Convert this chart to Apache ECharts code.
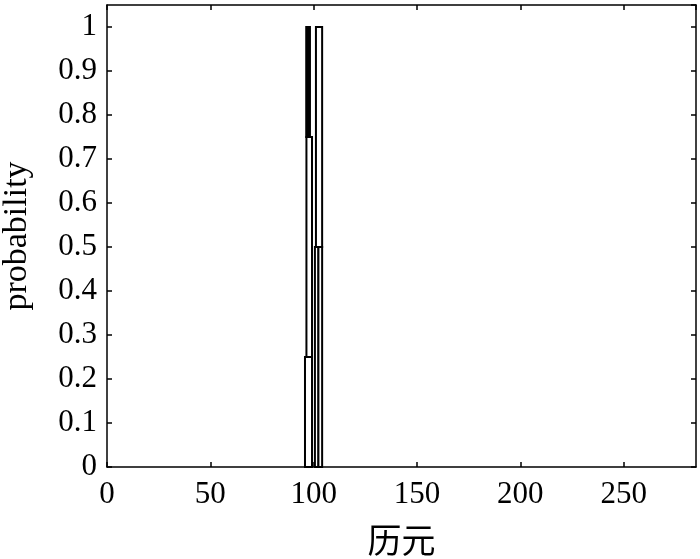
<!DOCTYPE html>
<html>
<head>
<meta charset="utf-8">
<script src="https://cdn.jsdelivr.net/npm/echarts@6/dist/echarts.min.js"></script>
<style>html,body{margin:0;padding:0;background:#fff}#c{width:700px;height:559px}</style>
</head>
<body>
<div id="c"></div>
<script>
// Bar segments: [xStart, xEnd, yBottom, yTop]
const segLeft = [[95.8, 99.2, 0, 0.25], [96.5, 99.2, 0.25, 0.75], [96.4, 98.2, 0.75, 1.0]];
const segRight = [[100.6, 102.3, 0, 0.5], [102.3, 104.1, 0, 0.5], [101.1, 104.1, 0.5, 1.0]];
const filledBlack = [false, false, true, false, false, false];
const xTicks = [0, 50, 100, 150, 200, 250];
const yTicks = [0, 0.1, 0.2, 0.3, 0.4, 0.5, 0.6, 0.7, 0.8, 0.9, 1];

const segs = segLeft.concat(segRight).map((s, i) => ({ value: s, black: filledBlack[i] }));
const serif = 'Liberation Serif';
const chart = echarts.init(document.getElementById('c'), null, { renderer: 'canvas' });
const axisLine = { show: true, onZero: false, lineStyle: { color: '#000', width: 1.5 } };
const tickStyle = { show: true, inside: true, length: 5, lineStyle: { color: '#000', width: 1.5 } };
chart.setOption({
  animation: false,
  backgroundColor: '#fff',
  grid: { left: 107, right: 4, top: 5, bottom: 92, containLabel: false, outerBoundsMode: 'none' },
  xAxis: [{
    type: 'value', min: 0, max: 285, interval: 50,
    axisLine, axisTick: tickStyle, splitLine: { show: false },
    axisLabel: { fontFamily: serif, fontSize: 31, color: '#000', margin: 12, showMaxLabel: false,
      formatter: v => xTicks.includes(v) ? String(v) : '' },
    name: '历元', nameLocation: 'middle', nameGap: 56,
    nameTextStyle: { fontFamily: 'Noto Sans CJK SC', fontSize: 34, color: '#000' }
  }, {
    type: 'value', position: 'top', min: 0, max: 285, interval: 50,
    axisLine, axisTick: tickStyle, axisLabel: { show: false }, splitLine: { show: false }
  }],
  yAxis: [{
    type: 'value', min: 0, max: 1.05, interval: 0.1,
    axisLine, axisTick: tickStyle, splitLine: { show: false },
    axisLabel: { fontFamily: serif, fontSize: 31, color: '#000', margin: 10, showMaxLabel: false,
      formatter: v => { const r = Math.round(v * 10) / 10; return yTicks.includes(r) && v <= 1.0001 ? String(r) : ''; } },
    name: 'probability', nameLocation: 'middle', nameGap: 73,
    nameTextStyle: { fontFamily: serif, fontSize: 34, color: '#000' }
  }, {
    type: 'value', position: 'right', min: 0, max: 1.05, interval: 0.1,
    axisLine, axisTick: tickStyle, axisLabel: { show: false }, splitLine: { show: false }
  }],
  series: [{
    type: 'custom',
    xAxisIndex: 0, yAxisIndex: 0,
    data: segs.map(s => ({ value: s.value })),
    encode: { x: [0, 1], y: [2, 3] },
    renderItem: (params, api) => {
      const p0 = api.coord([api.value(0), api.value(3)]);
      const p1 = api.coord([api.value(1), api.value(2)]);
      const black = segs[params.dataIndex].black;
      return {
        type: 'rect',
        shape: { x: p0[0], y: p0[1], width: p1[0] - p0[0], height: p1[1] - p0[1] },
        style: { fill: black ? '#000' : '#fff', stroke: '#000', lineWidth: 2 }
      };
    }
  }]
});
</script>
</body>
</html>
